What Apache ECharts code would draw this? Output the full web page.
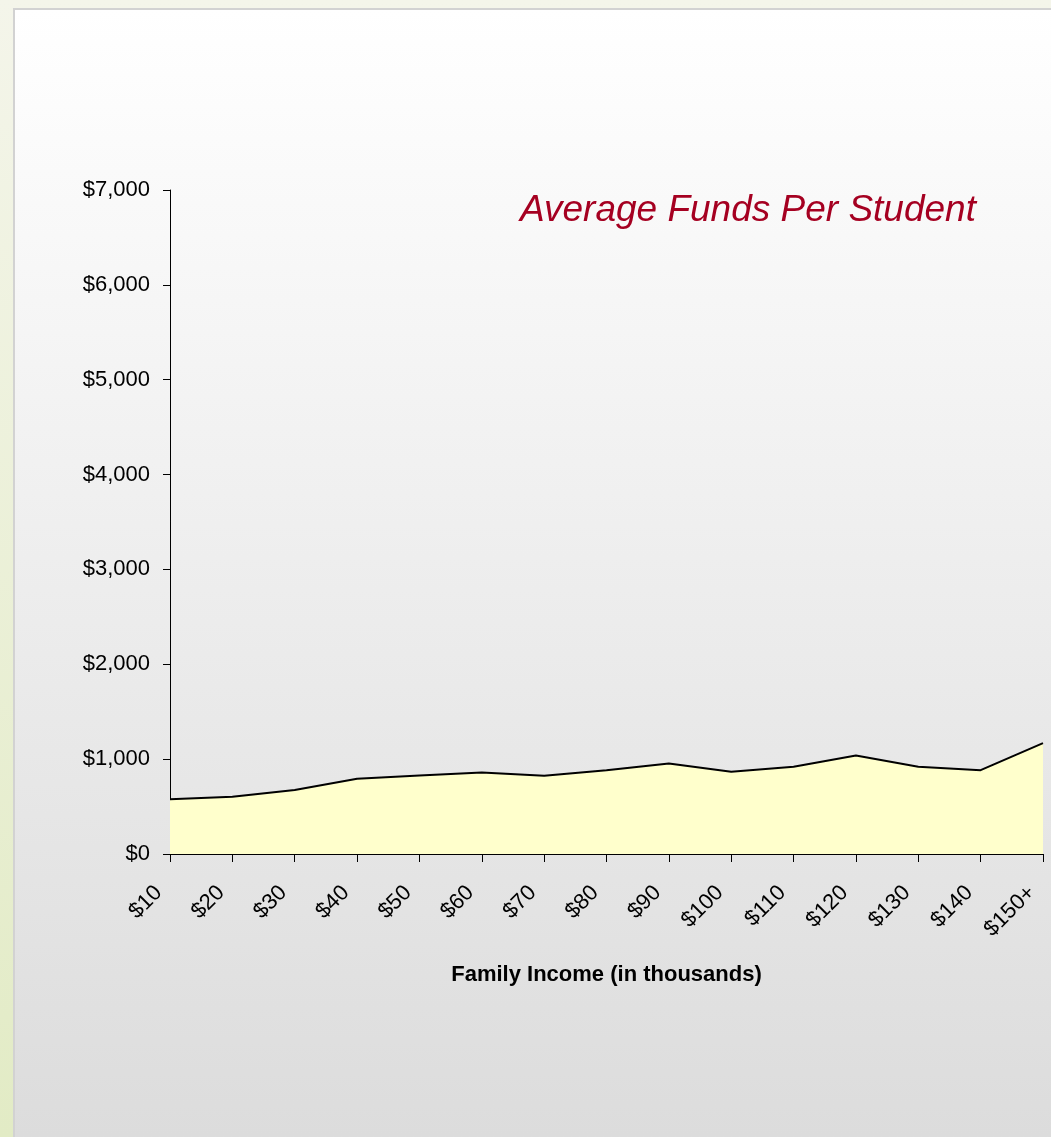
<!DOCTYPE html>
<html>
<head>
<meta charset="utf-8">
<title>Average Funds Per Student</title>
<script src="https://cdn.jsdelivr.net/npm/echarts@6/dist/echarts.min.js"></script>
<style>
  html, body { margin: 0; padding: 0; }
  body {
    width: 1051px; height: 1137px; position: relative; overflow: hidden;
    background: linear-gradient(to bottom, #f4f5ea 0%, #e2ebc5 100%);
  }
  #panel {
    position: absolute; left: 13px; top: 8px; right: 0; bottom: 0;
    border-left: 2px solid #d2d2d2; border-top: 2px solid #d2d2d2;
    background: linear-gradient(to bottom, #ffffff 0%, #dcdcdc 100%);
  }
  #chart { position: absolute; left: 0; top: 0; width: 1051px; height: 1137px; }
</style>
</head>
<body>
<div id="panel"></div>
<div id="chart"></div>
<script>
'use strict';

//categories: family income bands (in thousands)
var incomeBands = ['$10', '$20', '$30', '$40', '$50', '$60', '$70', '$80',
  '$90', '$100', '$110', '$120', '$130', '$140', '$150+'];

//average funds per student
var avgFunds = [576, 603, 674, 793, 828, 860, 824, 884,
  954, 866, 919, 1038, 919, 884, 1168];

//value axis range
var yMin = 0;
var yMax = 7000;
var yStep = 1000;

var chart = echarts.init(document.getElementById('chart'), null, { renderer: 'canvas' });

var font = 'Arial, "Liberation Sans", sans-serif';

chart.setOption({
  backgroundColor: 'transparent',
  animation: false,
  textStyle: { fontFamily: font },
  title: {
    text: 'Average Funds Per Student',
    left: 515,
    top: 187,
    textStyle: {
      color: '#a50021',
      fontSize: 37,
      fontStyle: 'italic',
      fontWeight: 'normal',
      fontFamily: font
    }
  },
  grid: { left: 170, right: 8, top: 190, bottom: 283, containLabel: false },
  xAxis: {
    type: 'category',
    data: incomeBands,
    boundaryGap: false,
    name: 'Family Income (in thousands)',
    nameLocation: 'middle',
    nameGap: 110,
    nameTextStyle: { color: '#000', fontSize: 22, fontWeight: 'bold', fontFamily: font },
    axisLine: { lineStyle: { color: '#000', width: 1 } },
    axisTick: { alignWithLabel: true, length: 8, lineStyle: { color: '#000' } },
    axisLabel: {
      rotate: 45,
      margin: 24,
      padding: [0, 16, 0, 0],
      color: '#000',
      fontSize: 22,
      fontFamily: font
    },
    splitLine: { show: false }
  },
  yAxis: {
    type: 'value',
    min: yMin,
    max: yMax,
    interval: yStep,
    axisLine: { show: true, lineStyle: { color: '#000', width: 1 } },
    axisTick: { show: true, length: 7, lineStyle: { color: '#000' } },
    axisLabel: {
      margin: 20,
      color: '#000',
      fontSize: 22,
      fontFamily: font,
      formatter: function(v) {
        return '$' + v.toLocaleString('en-US');
      }
    },
    splitLine: { show: false }
  },
  series: [{
    type: 'line',
    data: avgFunds,
    symbol: 'none',
    lineStyle: { color: '#000', width: 2 },
    areaStyle: { color: '#ffffcc', opacity: 1 },
    z: 1
  }]
});
</script>
</body>
</html>
